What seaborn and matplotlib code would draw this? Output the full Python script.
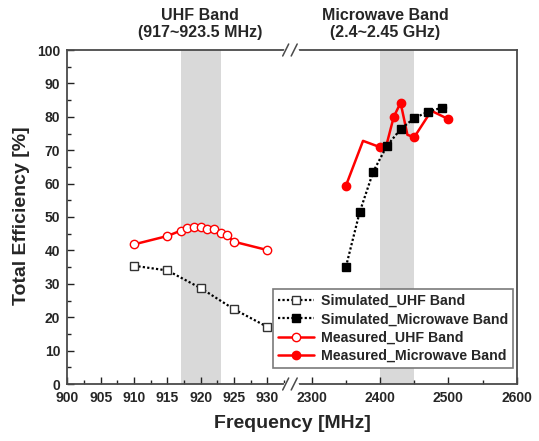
import numpy as np
import pandas as pd
import matplotlib
matplotlib.use("Agg")
import matplotlib.pyplot as plt
from matplotlib.lines import Line2D
import seaborn as sns

# ---------------- data ----------------
uhf_sim_freq = [910, 915, 920, 925, 930]
uhf_sim_eff = [35.4, 34.0, 28.7, 22.4, 17.1]

uhf_meas_freq = [910, 915, 917, 918, 919, 920, 921, 922, 923, 924, 925, 930]
uhf_meas_eff = [41.8, 44.3, 45.9, 46.7, 47.1, 47.1, 46.5, 46.3, 45.3, 44.5, 42.6, 40.1]

mw_sim_freq = [2350, 2370, 2390, 2410, 2430, 2450, 2470, 2490, 2500]
mw_sim_eff = [35.1, 51.4, 63.6, 71.3, 76.3, 79.6, 81.5, 82.7, 82.8]

mw_meas_freq = [2350, 2375, 2400, 2410, 2420, 2430, 2440, 2450, 2475, 2500]
mw_meas_eff = [59.4, 72.8, 70.9, 72.1, 80.0, 84.2, 74.6, 73.9, 81.8, 79.3]

series_labels = ["Simulated_UHF Band", "Simulated_Microwave Band",
                 "Measured_UHF Band", "Measured_Microwave Band"]
band_titles = [("UHF Band", "(917~923.5 MHz)"), ("Microwave Band", "(2.4~2.45 GHz)")]
uhf_ticks = [900, 905, 910, 915, 920, 925, 930]
mw_ticks = [2300, 2400, 2500, 2600]
y_ticks = [0, 10, 20, 30, 40, 50, 60, 70, 80, 90, 100]

# ---------------- style ----------------
sns.set_theme(style="ticks")
plt.rcParams["font.family"] = ["Liberation Sans", "DejaVu Sans"]
plt.rcParams["font.weight"] = "bold"

W, H = 539, 441
fig = plt.figure(figsize=(W / 100, H / 100), dpi=100)


def fx(px):
    return px / W


def fy(py):
    return 1 - py / H


L, R, T, B, BRK = 67.3, 516.7, 50.0, 384.0, 290.0
axL = fig.add_axes([fx(L), fy(B), fx(BRK - L), (B - T) / H])
axR = fig.add_axes([fx(BRK), fy(B), fx(R - BRK), (B - T) / H])

axL.set_xlim(900, 900 + (BRK - L) / 6.667)
axR.set_xlim(2600 - (R - BRK) / 0.683, 2600)
for ax in (axL, axR):
    ax.set_ylim(0, 100)
    ax.set_facecolor("white")

axL.axvspan(917, 923, color="#d9d9d9", lw=0, zorder=0)
axR.axvspan(2400, 2450, color="#d9d9d9", lw=0, zorder=0)

dot = (0, (1, 1))
red = "#ff0000"

# measured (drawn first)
sns.lineplot(x=uhf_meas_freq, y=uhf_meas_eff, ax=axL, color=red, lw=1.8,
             marker="o", markersize=6, markerfacecolor="white",
             markeredgecolor=red, markeredgewidth=1.0,
             estimator=None, sort=False, legend=False, zorder=3)
sns.lineplot(x=mw_meas_freq, y=mw_meas_eff, ax=axR, color=red, lw=1.8,
             marker="o", markersize=6, markerfacecolor=red,
             markeredgecolor=red, markeredgewidth=1.0,
             markevery=[0, 2, 4, 5, 7, 9],
             estimator=None, sort=False, legend=False, zorder=3)
# simulated
sns.lineplot(x=uhf_sim_freq, y=uhf_sim_eff, ax=axL, color="black", lw=1.6,
             linestyle=dot, marker="s", markersize=5.5, markerfacecolor="white",
             markeredgecolor="#333333", markeredgewidth=1.0,
             estimator=None, sort=False, legend=False, zorder=4)
sns.lineplot(x=mw_sim_freq, y=mw_sim_eff, ax=axR, color="black", lw=1.6,
             linestyle=dot, marker="s", markersize=5.5, markerfacecolor="black",
             markeredgecolor="black", markeredgewidth=1.0,
             markevery=list(range(len(mw_sim_freq) - 1)),
             estimator=None, sort=False, legend=False, zorder=4)

# ---------------- axes cosmetics ----------------
spine_c = "#4a4a4a"
for ax in (axL, axR):
    for s in ax.spines.values():
        s.set_color(spine_c)
        s.set_linewidth(1.3)
    ax.set_xlabel("")
    ax.set_ylabel("")
    ax.grid(False)

axL.spines["right"].set_visible(False)
axR.spines["left"].set_visible(False)

axL.set_xticks(uhf_ticks)
axL.set_xticks(np.arange(902.5, 933, 5), minor=True)
axL.set_yticks(y_ticks)
axL.set_yticks(np.arange(5, 100, 10), minor=True)
axR.set_xticks(mw_ticks)
axR.set_xticks([2350, 2450, 2550], minor=True)
axR.set_yticks([])

for ax in (axL, axR):
    ax.tick_params(axis="both", which="major", direction="in", length=5, width=1,
                   color="#222222", labelsize=10, pad=5)
    ax.tick_params(axis="both", which="minor", direction="in", length=3, width=1,
                   color="#222222")
    for lab in ax.get_xticklabels() + ax.get_yticklabels():
        lab.set_fontweight("bold")
axR.tick_params(axis="y", which="both", left=False, right=False, labelleft=False)
axL.tick_params(axis="y", which="both", right=False)
axL.tick_params(axis="x", which="both", top=False)
axR.tick_params(axis="x", which="both", top=False)

# ---------------- break marks ----------------
for yb in (T, B):
    fig.add_artist(Line2D([fx(284.5), fx(296.5)], [fy(yb), fy(yb)],
                          transform=fig.transFigure, color="white", lw=2.5, zorder=10))
    for x0 in (282.7, 291.2):
        fig.add_artist(Line2D([fx(x0), fx(x0 + 6.0)], [fy(yb + 6), fy(yb - 6)],
                              transform=fig.transFigure, color=spine_c, lw=1.1, zorder=11))

# ---------------- text ----------------
for (t1, t2), xc in zip(band_titles, (200, 385)):
    fig.text(fx(xc), fy(15), t1, ha="center", va="center", fontsize=11.5, fontweight="bold")
    fig.text(fx(xc), fy(33), t2, ha="center", va="center", fontsize=11.5, fontweight="bold")

fig.text(fx(292), fy(424), "Frequency [MHz]", ha="center", va="center",
         fontsize=14, fontweight="bold")
fig.text(fx(22), fy(216), "Total Efficiency [%]", ha="center", va="center",
         rotation=90, fontsize=14, fontweight="bold")

# ---------------- legend ----------------
handles = [
    Line2D([], [], color="black", lw=1.6, linestyle=dot, marker="s", markersize=5.5,
           markerfacecolor="white", markeredgecolor="#333333"),
    Line2D([], [], color="black", lw=1.6, linestyle=dot, marker="s", markersize=5.5,
           markerfacecolor="black", markeredgecolor="black"),
    Line2D([], [], color=red, lw=1.8, marker="o", markersize=6,
           markerfacecolor="white", markeredgecolor=red),
    Line2D([], [], color=red, lw=1.8, marker="o", markersize=6,
           markerfacecolor=red, markeredgecolor=red),
]
leg = fig.legend(handles, series_labels, loc="lower left",
                 bbox_to_anchor=(fx(272.7), fy(368.3)),
                 prop={"weight": "bold", "size": 10.2}, frameon=True, fancybox=False,
                 edgecolor="#7a7a7a", framealpha=1, borderpad=0.38, handlelength=2.5,
                 handletextpad=0.5, labelspacing=0.3, borderaxespad=0, numpoints=1)
leg.get_frame().set_linewidth(1.2)
leg.set_zorder(20)

fig.savefig("out.png", dpi=100)
